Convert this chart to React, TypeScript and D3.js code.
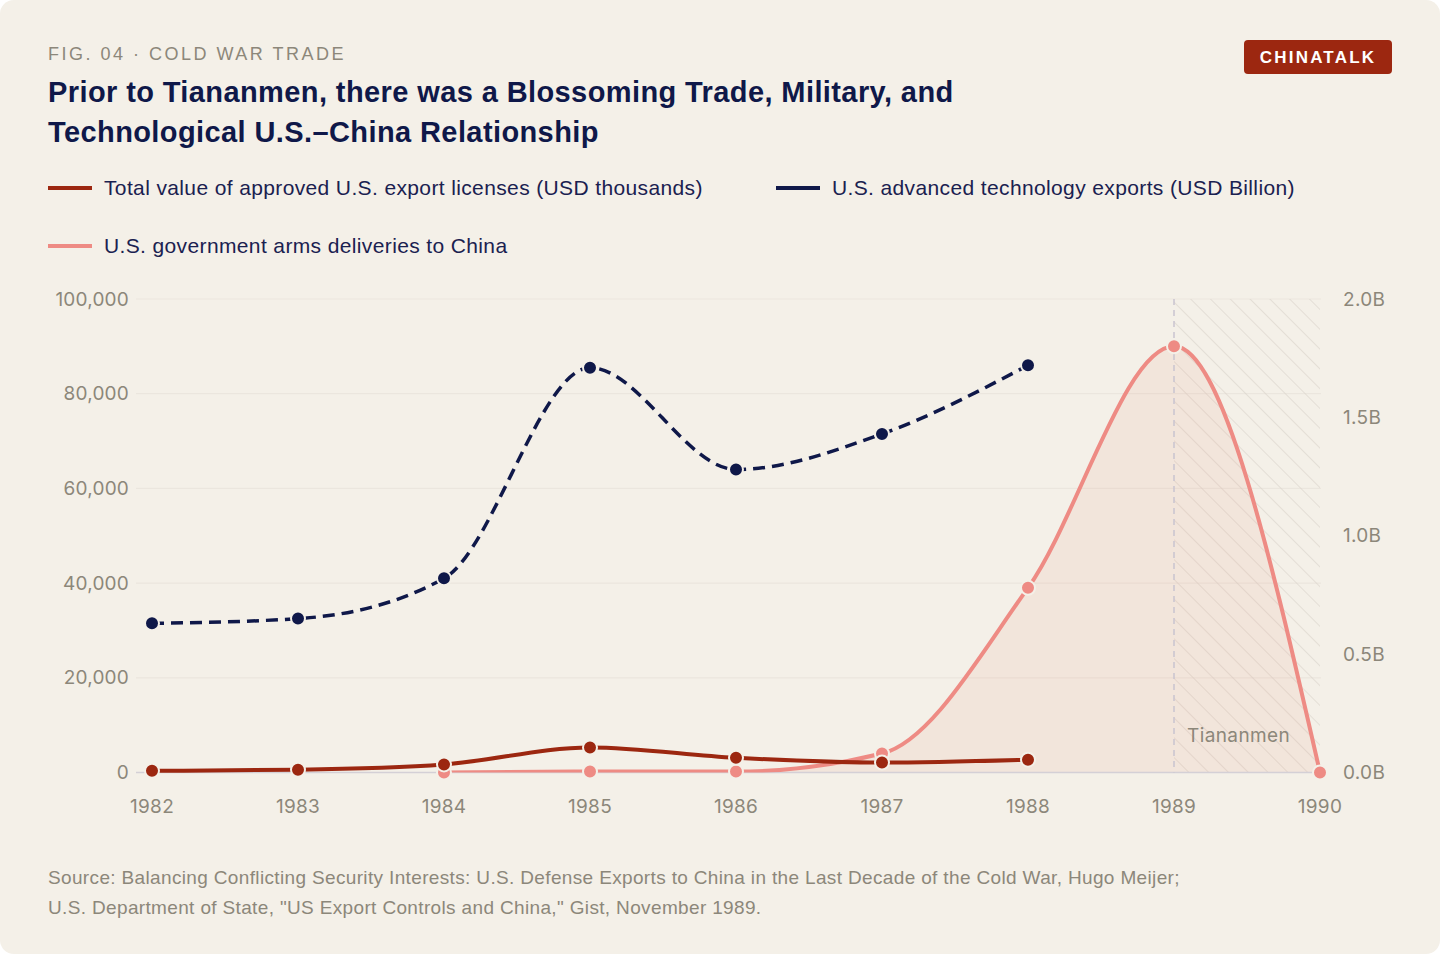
import {default as React, useEffect} from "react";
import * as d3 from "d3";

// ---- data ----
const years = [1982, 1983, 1984, 1985, 1986, 1987, 1988, 1989, 1990];

const licenseYears = [1982, 1983, 1984, 1985, 1986, 1987, 1988];
const licenseValues = [350, 600, 1700, 5300, 3100, 2100, 2700]; // USD thousands

const techYears = [1982, 1983, 1984, 1985, 1986, 1987, 1988];
const techValues = [0.63, 0.65, 0.82, 1.71, 1.28, 1.43, 1.72]; // USD billion

const armsYears = [1984, 1985, 1986, 1987, 1988, 1989, 1990];
const armsValues = [0, 0.004, 0.004, 0.08, 0.78, 1.8, 0]; // USD billion

const leftTicks = [0, 20000, 40000, 60000, 80000, 100000];
const rightTicks = [0, 0.5, 1.0, 1.5, 2.0];

const legendLabels = [
    "Total value of approved U.S. export licenses (USD thousands)",
    "U.S. advanced technology exports (USD Billion)",
    "U.S. government arms deliveries to China"
];

const sourceLines = [
    "Source: Balancing Conflicting Security Interests: U.S. Defense Exports to China in the Last Decade of the Cold War, Hugo Meijer;",
    "U.S. Department of State, \"US Export Controls and China,\" Gist, November 1989."
];

const width = 1440;
const height = 954;
const margin = {top: 299, bottom: 954 - 772.5, left: 152, right: 1440 - 1320};

const colors = {
    bg: "#f4f0e8",
    red: "#9c2710",
    navy: "#0f1849",
    pink: "#ee8b84",
    muted: "#8c877a",
    grid: "#ebe6de"
};

const sans = "'Liberation Sans', Arial, sans-serif";
const tickFont = "Inter, 'Noto Sans', sans-serif";

export default function App() {

    useEffect(() => {
        document.body.style.margin = "0";
        document.body.style.background = "#ffffff";
    }, []);

    const x = d3.scaleLinear()
        .domain([1982, 1990])
        .range([margin.left, width - margin.right]);

    const yLeft = d3.scaleLinear()
        .domain([0, 100000])
        .range([height - margin.bottom, margin.top]);

    const yRight = d3.scaleLinear()
        .domain([0, 2])
        .range([height - margin.bottom, margin.top]);

    const licenses: [number, number][] = licenseYears.map((yr, i) => [yr, licenseValues[i]]);
    const tech: [number, number][] = techYears.map((yr, i) => [yr, techValues[i]]);
    const arms: [number, number][] = armsYears.map((yr, i) => [yr, armsValues[i]]);

    const licenseLine = d3.line<[number, number]>()
        .x(d => x(d[0]))
        .y(d => yLeft(d[1]))
        .curve(d3.curveMonotoneX);

    const rightLine = d3.line<[number, number]>()
        .x(d => x(d[0]))
        .y(d => yRight(d[1]))
        .curve(d3.curveMonotoneX);

    const armsArea = d3.area<[number, number]>()
        .x(d => x(d[0]))
        .y0(yRight(0))
        .y1(d => yRight(d[1]))
        .curve(d3.curveMonotoneX);

    const gridX0 = 136;
    const gridX1 = x(1990) + 1;
    const base = yLeft(0);

    return (
        <svg width={width} height={height} style={{display: "block"}}>
            <defs>
                <pattern id="hatch" width="14" height="14" patternUnits="userSpaceOnUse"
                         patternTransform="rotate(-45)">
                    <line x1="0" y1="0" x2="0" y2="14" stroke="#d8d2c9" strokeWidth="1.2"/>
                </pattern>
                <clipPath id="plotClip">
                    <rect x={gridX0} y={margin.top} width={gridX1 - gridX0} height={base - margin.top}/>
                </clipPath>
            </defs>

            <rect x={0} y={0} width={width} height={height} rx={14} fill={colors.bg}/>

            {/* header */}
            <text x={48} y={60} fontFamily={sans} fontSize={18} letterSpacing={2.5}
                  fill={colors.muted}>FIG. 04 · COLD WAR TRADE</text>
            <text fontFamily={sans} fontSize={29} fontWeight={700} letterSpacing={0.4} fill="#0f1849">
                <tspan x={48} y={102}>Prior to Tiananmen, there was a Blossoming Trade, Military, and</tspan>
                <tspan x={48} y={142}>Technological U.S.–China Relationship</tspan>
            </text>

            <rect x={1244} y={40} width={148} height={34} rx={4} fill="#9c2710"/>
            <text x={1318} y={63} textAnchor="middle" fontFamily={sans} fontSize={17}
                  fontWeight={700} letterSpacing={2.2} fill="#ffffff">CHINATALK</text>

            {/* legend */}
            {[
                {lx: 48, ly: 188, color: colors.red, label: legendLabels[0]},
                {lx: 776, ly: 188, color: colors.navy, label: legendLabels[1]},
                {lx: 48, ly: 246, color: colors.pink, label: legendLabels[2]}
            ].map(item => (
                <g key={item.label}>
                    <line x1={item.lx} x2={item.lx + 44} y1={item.ly} y2={item.ly}
                          stroke={item.color} strokeWidth={4}/>
                    <text x={item.lx + 56} y={item.ly + 7} fontFamily={sans} fontSize={21}
                          letterSpacing={0.37} fill="#1a2150">{item.label}</text>
                </g>
            ))}

            {/* grid */}
            {leftTicks.filter(t => t > 0).map(t => (
                <line key={t} x1={gridX0} x2={gridX1} y1={yLeft(t)} y2={yLeft(t)}
                      stroke={colors.grid} strokeWidth={1.2}/>
            ))}

            {/* Tiananmen shaded region */}
            <rect x={x(1989)} y={margin.top} width={x(1990) - x(1989)} height={base - margin.top}
                  fill="url(#hatch)"/>

            {/* arms area */}
            <path d={armsArea(arms) || ""} fill="#eb9a82" fillOpacity={0.13}/>

            <line x1={gridX0} x2={gridX1} y1={base} y2={base} stroke="#d4d0d6" strokeWidth={1.5}/>

            <line x1={x(1989)} x2={x(1989)} y1={margin.top} y2={base} stroke="#c9c4cf"
                  strokeWidth={1.5} strokeDasharray="6,5"/>
            <text x={x(1989) + 13} y={base - 31} fontFamily={tickFont} fontSize={19}
                  letterSpacing={0.4} fill={colors.muted}>Tiananmen</text>

            {/* axes labels */}
            {leftTicks.map(t => (
                <text key={t} x={129} y={yLeft(t) + 6.5} textAnchor="end" fontFamily={tickFont}
                      fontSize={19} letterSpacing={0.2} fill={colors.muted}>{d3.format(",")(t)}</text>
            ))}
            {rightTicks.map(t => (
                <text key={t} x={1343} y={yRight(t) + 6.5} fontFamily={tickFont}
                      fontSize={19} letterSpacing={0.3} fill={colors.muted}>{d3.format(".1f")(t) + "B"}</text>
            ))}
            {years.map(yr => (
                <text key={yr} x={x(yr)} y={813} textAnchor="middle" fontFamily={tickFont}
                      fontSize={19} letterSpacing={0.3} fill={colors.muted}>{yr}</text>
            ))}

            {/* series */}
            <g clipPath="url(#plotClip)">
                <path d={rightLine(arms) || ""} fill="none" stroke={colors.pink} strokeWidth={4}
                      strokeLinecap="round"/>
            </g>
            {arms.map(d => (
                <circle key={"a" + d[0]} cx={x(d[0])} cy={yRight(d[1])} r={7}
                        fill={colors.pink} stroke={colors.bg} strokeWidth={2}/>
            ))}

            <path d={licenseLine(licenses) || ""} fill="none" stroke={colors.red} strokeWidth={4}
                  strokeLinecap="round"/>
            {licenses.map(d => (
                <circle key={"l" + d[0]} cx={x(d[0])} cy={yLeft(d[1])} r={7}
                        fill={colors.red} stroke={colors.bg} strokeWidth={2}/>
            ))}

            <path d={rightLine(tech) || ""} fill="none" stroke={colors.navy} strokeWidth={3.5}
                  strokeDasharray="12,7"/>
            {tech.map(d => (
                <circle key={"t" + d[0]} cx={x(d[0])} cy={yRight(d[1])} r={7}
                        fill={colors.navy} stroke={colors.bg} strokeWidth={2}/>
            ))}

            {/* source */}
            {sourceLines.map((s, i) => (
                <text key={i} x={48} y={884 + i * 30} fontFamily={sans} fontSize={19}
                      letterSpacing={0.35} fill={colors.muted}>{s}</text>
            ))}
        </svg>
    );
}
